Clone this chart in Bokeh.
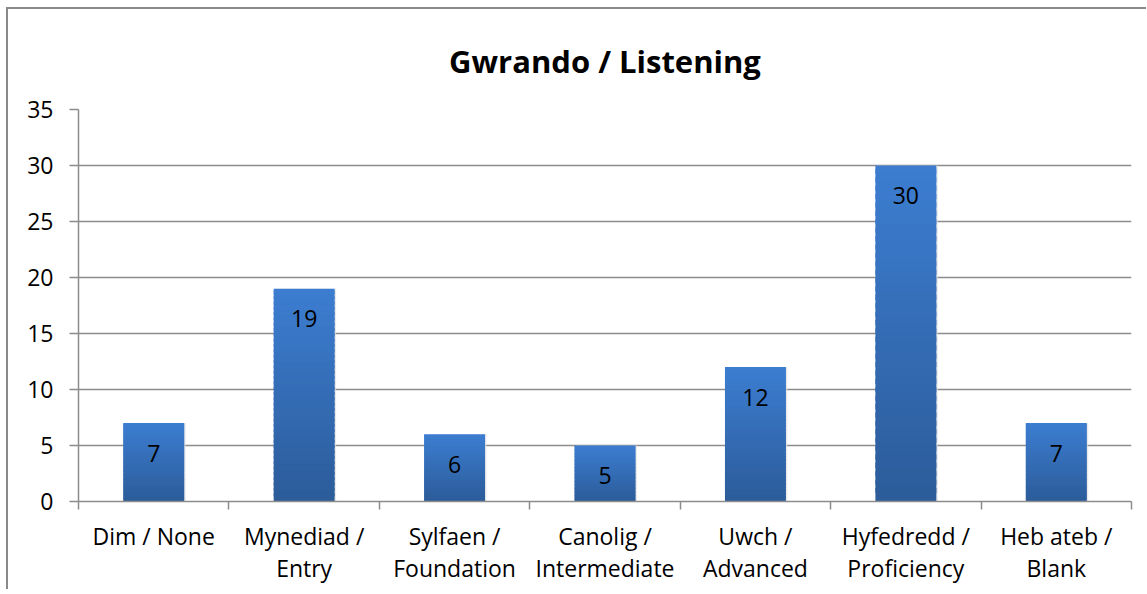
from bokeh.plotting import figure
from bokeh.models import Range1d, FixedTicker, Title
from bokeh.embed import file_html
from bokeh.resources import INLINE
from bokeh.core.properties import value

categories = ["Dim / None", "Mynediad /\nEntry", "Sylfaen /\nFoundation", "Canolig /\nIntermediate",
              "Uwch /\nAdvanced", "Hyfedredd /\nProficiency", "Heb ateb /\nBlank"]
counts = [7, 19, 6, 5, 12, 30, 7]
y_ticks = [0, 5, 10, 15, 20, 25, 30, 35]

FONT = "Open Sans"
GRID = "#8c8c8c"

p = figure(frame_width=1053, frame_height=392,
           output_backend="svg", toolbar_location=None,
           x_range=Range1d(0, len(categories)), y_range=Range1d(0, 35),
           min_border_left=70, min_border_right=15, min_border_top=99, min_border_bottom=88)
p.styles = {"border-left": "2px solid #8a8a8a", "border-top": "2px solid #8a8a8a",
            "margin-left": "6px", "margin-top": "7px"}

t = Title(text="Gwrando / Listening", align="center", text_font=FONT, text_font_size="31px",
          text_font_style="bold", text_color="#000000", standoff=56, text_line_height=0.8)
p.add_layout(t, "above")

p.outline_line_color = None
p.background_fill_color = "white"
p.border_fill_color = "white"

# gradient bars built from the data
xs = [i + 0.5 for i in range(len(categories))]
N = 40
light = (60, 125, 208)
dark = (44, 92, 154)
bx, bb, bt, bc = [], [], [], []
for x, v in zip(xs, counts):
    for k in range(N):
        f = k / (N - 1)
        c = tuple(int(round(dark[j] + (light[j] - dark[j]) * f)) for j in range(3))
        bx.append(x)
        bb.append(v * k / N)
        bt.append(min(v, v * (k + 1.6) / N))
        bc.append("#%02x%02x%02x" % c)

# grid
p.xgrid.grid_line_color = None
p.ygrid.grid_line_color = GRID
p.ygrid.grid_line_width = 1.5
p.yaxis.ticker = FixedTicker(ticks=y_ticks)

# shadow
p.vbar(x=[x + 0.01 for x in xs], top=counts, bottom=0, width=0.405, fill_color="#e0e0e0",
       line_color=None, fill_alpha=0.7)
p.vbar(x=bx, bottom=bb, top=bt, width=0.405, fill_color=bc, line_color=None)

p.text(x=xs, y=counts, text=[str(v) for v in counts], text_align="center", text_baseline="middle",
       y_offset=30, text_font=value(FONT), text_font_size="23px", text_color="#000000")

# axes
p.xaxis.ticker = FixedTicker(ticks=xs, minor_ticks=list(range(len(categories) + 1)))
p.xaxis.major_label_overrides = {x: c for x, c in zip(xs, categories)}
p.xaxis.major_tick_line_color = None
p.xaxis.minor_tick_line_color = GRID
p.xaxis.minor_tick_line_width = 1.5
p.xaxis.minor_tick_out = 8
p.xaxis.minor_tick_in = 0
p.xaxis.major_label_standoff = 10
p.xaxis.major_label_text_line_height = 1.0
p.xaxis.axis_line_color = GRID
p.xaxis.axis_line_width = 1.5

p.yaxis.axis_line_color = GRID
p.yaxis.axis_line_width = 1.5
p.yaxis.major_tick_line_color = GRID
p.yaxis.major_tick_line_width = 1.5
p.yaxis.major_tick_out = 9
p.yaxis.major_tick_in = 0
p.yaxis.minor_tick_line_color = None
p.yaxis.major_label_standoff = 16

for ax in (p.xaxis, p.yaxis):
    ax.major_label_text_font = FONT
    ax.major_label_text_font_size = "23px"
    ax.major_label_text_color = "#000000"

open("out.html", "w").write(file_html(p, INLINE))
